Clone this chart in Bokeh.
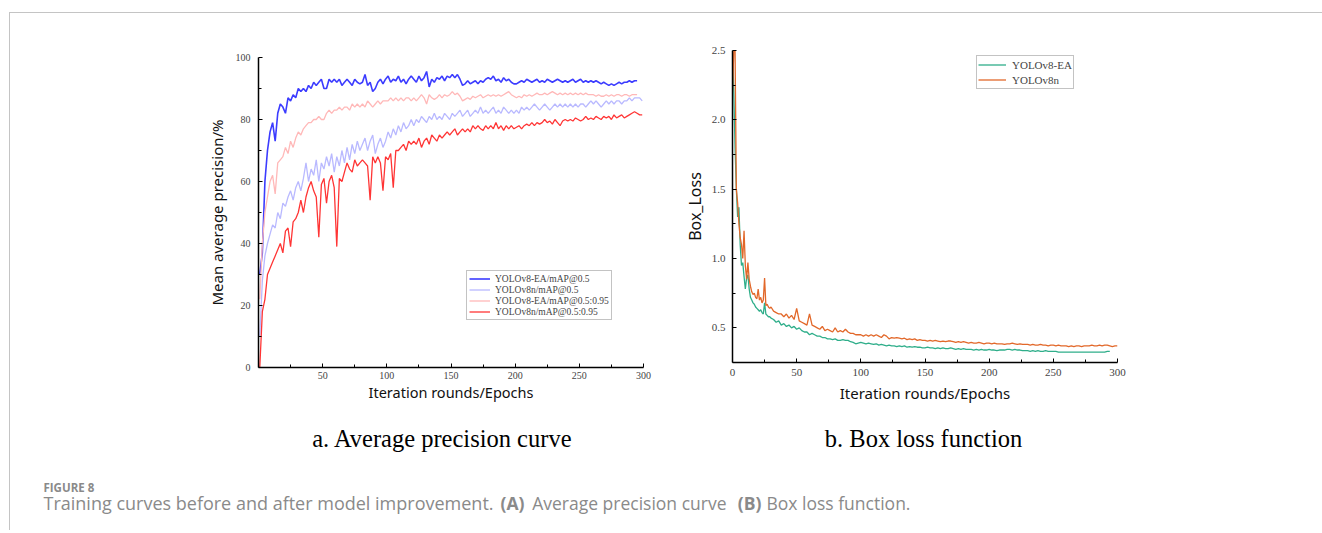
from bokeh.plotting import figure
from bokeh.models import Range1d, FixedTicker, Legend, LegendItem, Label, NumeralTickFormatter
from bokeh.layouts import row, column
from bokeh.embed import file_html
from bokeh.resources import INLINE

# ---------------- data ----------------
epochs_l = list(range(1, 300, 2))

ea_map50 = [30, 37, 60, 70, 76, 79, 73, 82, 85, 84,
            82, 87, 86, 88, 87, 90, 89, 90, 89, 91,
            90, 92, 91, 92, 93, 90, 90, 93, 92, 93,
            92, 93, 91, 92, 93, 92, 91, 93, 92, 91.5,
            92, 94.5, 91, 92, 89, 90, 92, 93, 91.5, 93,
            94, 92, 93, 92.5, 94, 92, 93, 91.5, 93, 94,
            93, 92, 94, 92.5, 93.5, 95.5, 90.5, 93, 92, 93.5,
            93, 94, 92.5, 94, 93.5, 94.5, 93.5, 94.5, 93, 91,
            91.5, 92.5, 91.5, 92, 92.5, 91.5, 92.5, 92, 93, 93.5,
            93, 94, 92.5, 93, 92, 93.5, 92.5, 93, 92, 91.5,
            91.5, 92, 92.5, 92, 93, 92.5, 92, 92.5, 93, 92,
            92.5, 92, 93, 92.5, 92, 92.5, 93, 92.5, 92, 92.5,
            92, 92.5, 93, 92, 92.5, 93, 92, 92.5, 92, 92.5,
            92, 92.5, 92, 91.5, 92, 91.5, 91, 91.5, 91, 91.5,
            92, 91.5, 92, 92, 92.5, 92, 92.5, 92.5]

n_map50 = [10, 28, 36, 40, 43, 46, 45, 50, 48, 53,
           52, 55, 57, 54, 58, 60, 57, 61, 66, 60,
           64, 62, 67, 60, 66, 64, 68, 65, 69, 63,
           68, 65, 70, 66, 71, 67, 72, 69, 73, 70,
           72, 74, 70, 73, 75, 69, 72, 74, 71, 73,
           76, 74, 77, 75, 78, 76, 79, 77, 78, 80,
           78, 80, 79, 81, 80, 79, 81, 80, 82, 80,
           81, 80, 82, 81, 80, 82, 81, 82, 83, 81,
           82, 83, 81, 82, 83, 82, 84, 82, 83, 82,
           83, 84, 82, 83, 82, 84, 83, 82, 83, 82,
           83, 82, 84, 83, 84, 83, 84, 85, 84, 83,
           84, 85, 84, 83, 84, 85, 84, 85, 84, 85,
           84, 85, 84, 85, 84, 85, 85, 84, 85, 86,
           85, 86, 85, 84, 85, 86, 85, 86, 85, 86,
           86, 85, 86, 86, 87, 86, 87, 87, 87, 86]

ea_map5095 = [22, 40, 50, 55, 60, 62, 56, 66, 67, 68,
              71, 69, 73, 71, 74, 76, 75, 77, 78, 79,
              79, 80, 80, 81, 80, 80, 82, 83, 82, 83,
              83, 84, 83, 84, 84, 83, 85, 84, 85, 84,
              85, 84, 86, 85, 84, 85, 86, 85, 86, 86,
              86, 87, 86, 87, 86, 87, 86, 87, 87, 86,
              87, 86, 87, 88, 87, 85, 88, 87, 86.5, 87,
              88, 87, 88, 87.5, 88, 89, 88, 88.5, 87.5, 86,
              86.5, 87, 86.5, 87.5, 87, 87.5, 88, 87, 87.5, 88,
              87.5, 88, 87.5, 88, 87.5, 88, 88.5, 89, 88, 87.5,
              87, 87.5, 87, 88, 87.5, 88, 87.5, 88, 88.5, 88,
              88, 88.5, 88, 88.5, 89, 88.5, 88, 88.5, 88, 88.5,
              88, 88.5, 88, 88.5, 88, 88.5, 88, 88.5, 88, 88,
              88, 87.5, 88, 87.5, 87.5, 88, 87.5, 88, 87.5, 88,
              88, 87.5, 88, 88, 87.5, 88, 88, 88]

n_map5095 = [0, 18, 22, 30, 32, 34, 36, 38, 40, 37,
             44, 45, 39, 47, 48, 50, 54, 50, 55, 58,
             60, 57, 55, 42, 59, 61, 53, 60, 62, 58,
             39, 61, 60, 63, 66, 64, 63, 67, 65, 66,
             67, 66, 65, 54, 68, 66, 68, 66, 57, 68,
             67, 69, 58, 70, 70, 71, 72, 70, 73, 72,
             73, 72, 74, 71, 73, 74, 72, 75, 74, 73,
             75, 74, 75, 76, 75, 76, 77, 75, 76, 77,
             76, 77, 76, 78, 77, 78, 77, 76.5, 78, 77,
             78, 77, 79, 77, 78, 76.5, 78, 77, 78, 77,
             77.5, 78, 77, 78, 78.5, 78, 79, 78, 79, 78.5,
             79, 80, 79, 79.5, 78.5, 80, 79, 78, 79.5, 80,
             79.5, 80, 79.5, 80.5, 80, 79.5, 80, 81, 80, 80.5,
             80, 81, 80.5, 80, 81, 80.5, 81, 80, 81.5, 80.5,
             81, 81.5, 80.5, 81, 81.5, 82, 82.5, 82, 81.5, 81.5]

epochs_r = list(range(0, 30)) + list(range(30, 301, 2))

ea_loss = [2.5, 2.2, 1.8, 1.5, 1.3, 1.37, 1.1, 0.95, 0.97, 0.87,
           0.78, 0.86, 0.88, 0.78, 0.72, 0.7, 0.68, 0.67, 0.65, 0.64,
           0.63, 0.62, 0.63, 0.61, 0.6, 0.68, 0.6, 0.59, 0.58, 0.58,
           0.57, 0.56, 0.54, 0.55, 0.52, 0.53, 0.51, 0.52, 0.5, 0.51,
           0.49, 0.5, 0.48, 0.47, 0.47, 0.45, 0.46, 0.45, 0.44, 0.44,
           0.43, 0.43, 0.42, 0.42, 0.415, 0.42, 0.41, 0.41, 0.415, 0.41,
           0.41, 0.4, 0.395, 0.385, 0.39, 0.395, 0.39, 0.385, 0.39, 0.385,
           0.38, 0.385, 0.375, 0.38, 0.375, 0.37, 0.375, 0.37, 0.37, 0.365,
           0.37, 0.365, 0.37, 0.36, 0.365, 0.36, 0.365, 0.36, 0.36, 0.355,
           0.355, 0.36, 0.355, 0.355, 0.35, 0.355, 0.35, 0.355, 0.35, 0.35,
           0.355, 0.35, 0.345, 0.35, 0.345, 0.35, 0.345, 0.345, 0.345, 0.34,
           0.345, 0.34, 0.345, 0.34, 0.34, 0.345, 0.34, 0.34, 0.335, 0.34,
           0.34, 0.34, 0.345, 0.345, 0.34, 0.345, 0.34, 0.34, 0.335, 0.335,
           0.335, 0.33, 0.335, 0.33, 0.335, 0.33, 0.33, 0.335, 0.33, 0.33,
           0.33, 0.33, 0.325, 0.325, 0.325, 0.325, 0.325, 0.325, 0.325, 0.325,
           0.325, 0.325, 0.325, 0.325, 0.325, 0.325, 0.325, 0.325, 0.325, 0.325,
           0.325, 0.33, 0.33]

n_loss = [2.2, 2.5, 2.5, 1.5, 1.4, 1.25, 1.15, 1.1, 1.0, 1.2,
          0.95, 0.85, 0.97, 0.85, 0.8, 0.76, 0.74, 0.75, 0.72, 0.71,
          0.78, 0.7, 0.72, 0.68, 0.7, 0.86, 0.66, 0.67, 0.65, 0.64,
          0.65, 0.62, 0.61, 0.6, 0.6, 0.58, 0.6, 0.57, 0.59, 0.56,
          0.64, 0.55, 0.54, 0.53, 0.52, 0.6, 0.52, 0.51, 0.5, 0.49,
          0.51, 0.48, 0.49, 0.48, 0.47, 0.5, 0.47, 0.48, 0.47, 0.49,
          0.47, 0.46, 0.46, 0.45, 0.45, 0.45, 0.44, 0.45, 0.44, 0.45,
          0.44, 0.45, 0.44, 0.43, 0.45, 0.44, 0.42, 0.43, 0.425, 0.43,
          0.425, 0.42, 0.425, 0.415, 0.42, 0.415, 0.42, 0.41, 0.415, 0.41,
          0.41, 0.405, 0.41, 0.405, 0.41, 0.405, 0.4, 0.405, 0.4, 0.405,
          0.405, 0.4, 0.395, 0.4, 0.395, 0.4, 0.395, 0.39, 0.395, 0.39,
          0.39, 0.395, 0.39, 0.385, 0.39, 0.39, 0.385, 0.39, 0.385, 0.385,
          0.385, 0.38, 0.385, 0.385, 0.39, 0.385, 0.38, 0.385, 0.38, 0.38,
          0.38, 0.375, 0.38, 0.375, 0.375, 0.38, 0.375, 0.375, 0.37, 0.375,
          0.375, 0.37, 0.375, 0.37, 0.37, 0.37, 0.365, 0.37, 0.365, 0.37,
          0.37, 0.365, 0.37, 0.37, 0.37, 0.375, 0.37, 0.37, 0.375, 0.37,
          0.375, 0.375, 0.37, 0.365, 0.37, 0.37]

labels_l = ["YOLOv8-EA/mAP@0.5", "YOLOv8n/mAP@0.5", "YOLOv8-EA/mAP@0.5:0.95", "YOLOv8n/mAP@0.5:0.95"]
labels_r = ["YOLOv8-EA", "YOLOv8n"]

x_ticks_l = [50, 100, 150, 200, 250, 300]
x_ticks_r = [0, 50, 100, 150, 200, 250, 300]
x_minor = [25, 75, 125, 175, 225, 275]
y_ticks_l = [0, 20, 40, 60, 80, 100]
y_minor_l = [10, 30, 50, 70, 90]
y_ticks_r = [0.5, 1.0, 1.5, 2.0, 2.5]
y_minor_r = [0.75, 1.25, 1.75, 2.25]

colors_l = ["#3c3cff", "#b9b9ff", "#ffb8b8", "#ff3535"]
colors_r = ["#2fae8a", "#e2682a"]

TICK_FONT = "Liberation Serif"
TITLE_FONT = "Noto Sans"
ROW_H = 397


def style_axes(p, tick_size):
    for ax in p.axis:
        ax.axis_line_color = "black"
        ax.axis_line_width = 1.5
        ax.major_tick_in = 4
        ax.major_tick_out = 0
        ax.minor_tick_in = 3
        ax.minor_tick_out = 0
        ax.major_tick_line_color = "black"
        ax.minor_tick_line_color = "black"
        ax.major_tick_line_width = 1
        ax.minor_tick_line_width = 1
        ax.major_label_text_font = TICK_FONT
        ax.major_label_text_font_size = tick_size
        ax.major_label_text_color = "#444444"
        ax.axis_label_text_font = TITLE_FONT
        ax.axis_label_text_font_style = "normal"
        ax.axis_label_text_font_size = "15px"
        ax.axis_label_text_color = "#111111"
    p.grid.visible = False
    p.outline_line_color = None


# ---------------- left chart ----------------
pA = figure(width=670, height=ROW_H,
            min_border_left=248, min_border_right=37, min_border_top=44, min_border_bottom=ROW_H - 44 - 310,
            x_range=Range1d(0, 300), y_range=Range1d(0, 100), frame_align=False,
            output_backend="svg", toolbar_location=None, tools="")
pA.xaxis.ticker = FixedTicker(ticks=x_ticks_l, minor_ticks=x_minor)
pA.yaxis.ticker = FixedTicker(ticks=y_ticks_l, minor_ticks=y_minor_l)
pA.xaxis.axis_label = "Iteration rounds/Epochs"
pA.yaxis.axis_label = "Mean average precision/%"
style_axes(pA, "10px")
pA.xaxis.axis_label_text_font_size = "14.5px"
pA.xaxis.major_label_standoff = 4
pA.xaxis.axis_label_standoff = 0
pA.yaxis.major_label_standoff = 8
pA.yaxis.axis_label_standoff = 6

rA = []
series_l = [(epochs_l[:len(ea_map50)], ea_map50, 1.6),
            (epochs_l[:len(n_map50)], n_map50, 1.3),
            (epochs_l[:len(ea_map5095)], ea_map5095, 1.3),
            (epochs_l[:len(n_map5095)], n_map5095, 1.3)]
for (xs, ys, lw), c in zip(series_l, colors_l):
    rA.append(pA.line(xs, ys, line_color=c, line_width=lw))

legA = Legend(items=[LegendItem(label=l, renderers=[r]) for l, r in zip(labels_l, rA)],
              location=(208, 47), padding=2, spacing=0, margin=0,
              glyph_width=21, glyph_height=11, label_height=11, label_standoff=5,
              label_text_font=TICK_FONT, label_text_font_size="9.5px", label_text_color="#444444",
              border_line_color="#888888", border_line_width=1,
              background_fill_color="white", background_fill_alpha=1)
pA.add_layout(legA)

# ---------------- right chart ----------------
pB = figure(width=587, height=ROW_H,
            min_border_left=49, min_border_right=150, min_border_top=37, min_border_bottom=ROW_H - 37 - 312,
            x_range=Range1d(0, 300), y_range=Range1d(0.25, 2.5), frame_align=False,
            output_backend="svg", toolbar_location=None, tools="")
pB.xaxis.ticker = FixedTicker(ticks=x_ticks_r, minor_ticks=x_minor)
pB.yaxis.ticker = FixedTicker(ticks=y_ticks_r, minor_ticks=y_minor_r)
pB.yaxis.formatter = NumeralTickFormatter(format="0.0")
pB.xaxis.axis_label = "Iteration rounds/Epochs"
pB.yaxis.axis_label = "Box_Loss"
style_axes(pB, "11px")
pB.yaxis.axis_label_text_font_size = "16px"
pB.xaxis.major_label_standoff = 6
pB.xaxis.axis_label_standoff = 4
pB.yaxis.major_label_standoff = 7
pB.yaxis.axis_label_standoff = 3

rB = []
series_r = [(epochs_r[:len(ea_loss)], ea_loss), (epochs_r[:len(n_loss)], n_loss)]
for (xs, ys), c in zip(series_r, colors_r):
    rB.append(pB.line(xs, ys, line_color=c, line_width=1.3))

legB = Legend(items=[LegendItem(label=l, renderers=[r]) for l, r in zip(labels_r, rB)],
              location=(244, 273), padding=1, spacing=0, margin=0,
              glyph_width=28, glyph_height=15, label_height=15, label_standoff=6,
              label_text_font=TICK_FONT, label_text_font_size="11px", label_text_color="#444444",
              border_line_color="#888888", border_line_width=1,
              background_fill_color="white", background_fill_alpha=1)
pB.add_layout(legB)

# ---------------- captions ----------------
pC = figure(width=1312, height=120, x_range=Range1d(0, 1312), y_range=Range1d(120, 0),
            min_border=0, x_axis_location=None, y_axis_location=None,
            output_backend="svg", toolbar_location=None, tools="")
pC.grid.visible = False
pC.outline_line_color = None

GREY = "#8a8a8a"
pC.add_layout(Label(x=432, y=28, text="a. Average precision curve", text_font="Liberation Serif",
                    text_font_size="24.5px", text_align="center", text_baseline="alphabetic",
                    text_color="black"))
pC.add_layout(Label(x=913, y=28, text="b. Box loss function", text_font="Liberation Serif",
                    text_font_size="24.5px", text_align="center", text_baseline="alphabetic",
                    text_color="black"))
pC.add_layout(Label(x=33, y=77, text="FIGURE 8", text_font="Open Sans", text_font_style="bold",
                    text_font_size="11.5px", text_baseline="alphabetic", text_color=GREY))
pieces = [(33, "Training curves before and after model improvement.", "normal", "18px"),
          (490, "(A)", "bold", "17.5px"),
          (521.7, "Average precision curve", "normal", "17.5px"),
          (727.3, "(B)", "bold", "17.5px"),
          (756, "Box loss function.", "normal", "17.5px")]
for px, t, st, fs in pieces:
    pC.add_layout(Label(x=px, y=92, text=t, text_font="Open Sans", text_font_style=st,
                        text_font_size=fs, text_baseline="alphabetic", text_color=GREY))

layout = column(row(pA, pB), pC,
                styles={"border-top": "1px solid #c4c4c4", "border-left": "1px solid #c4c4c4"},
                margin=(12, 0, 0, 9))

open("out.html", "w").write(file_html(layout, INLINE))
